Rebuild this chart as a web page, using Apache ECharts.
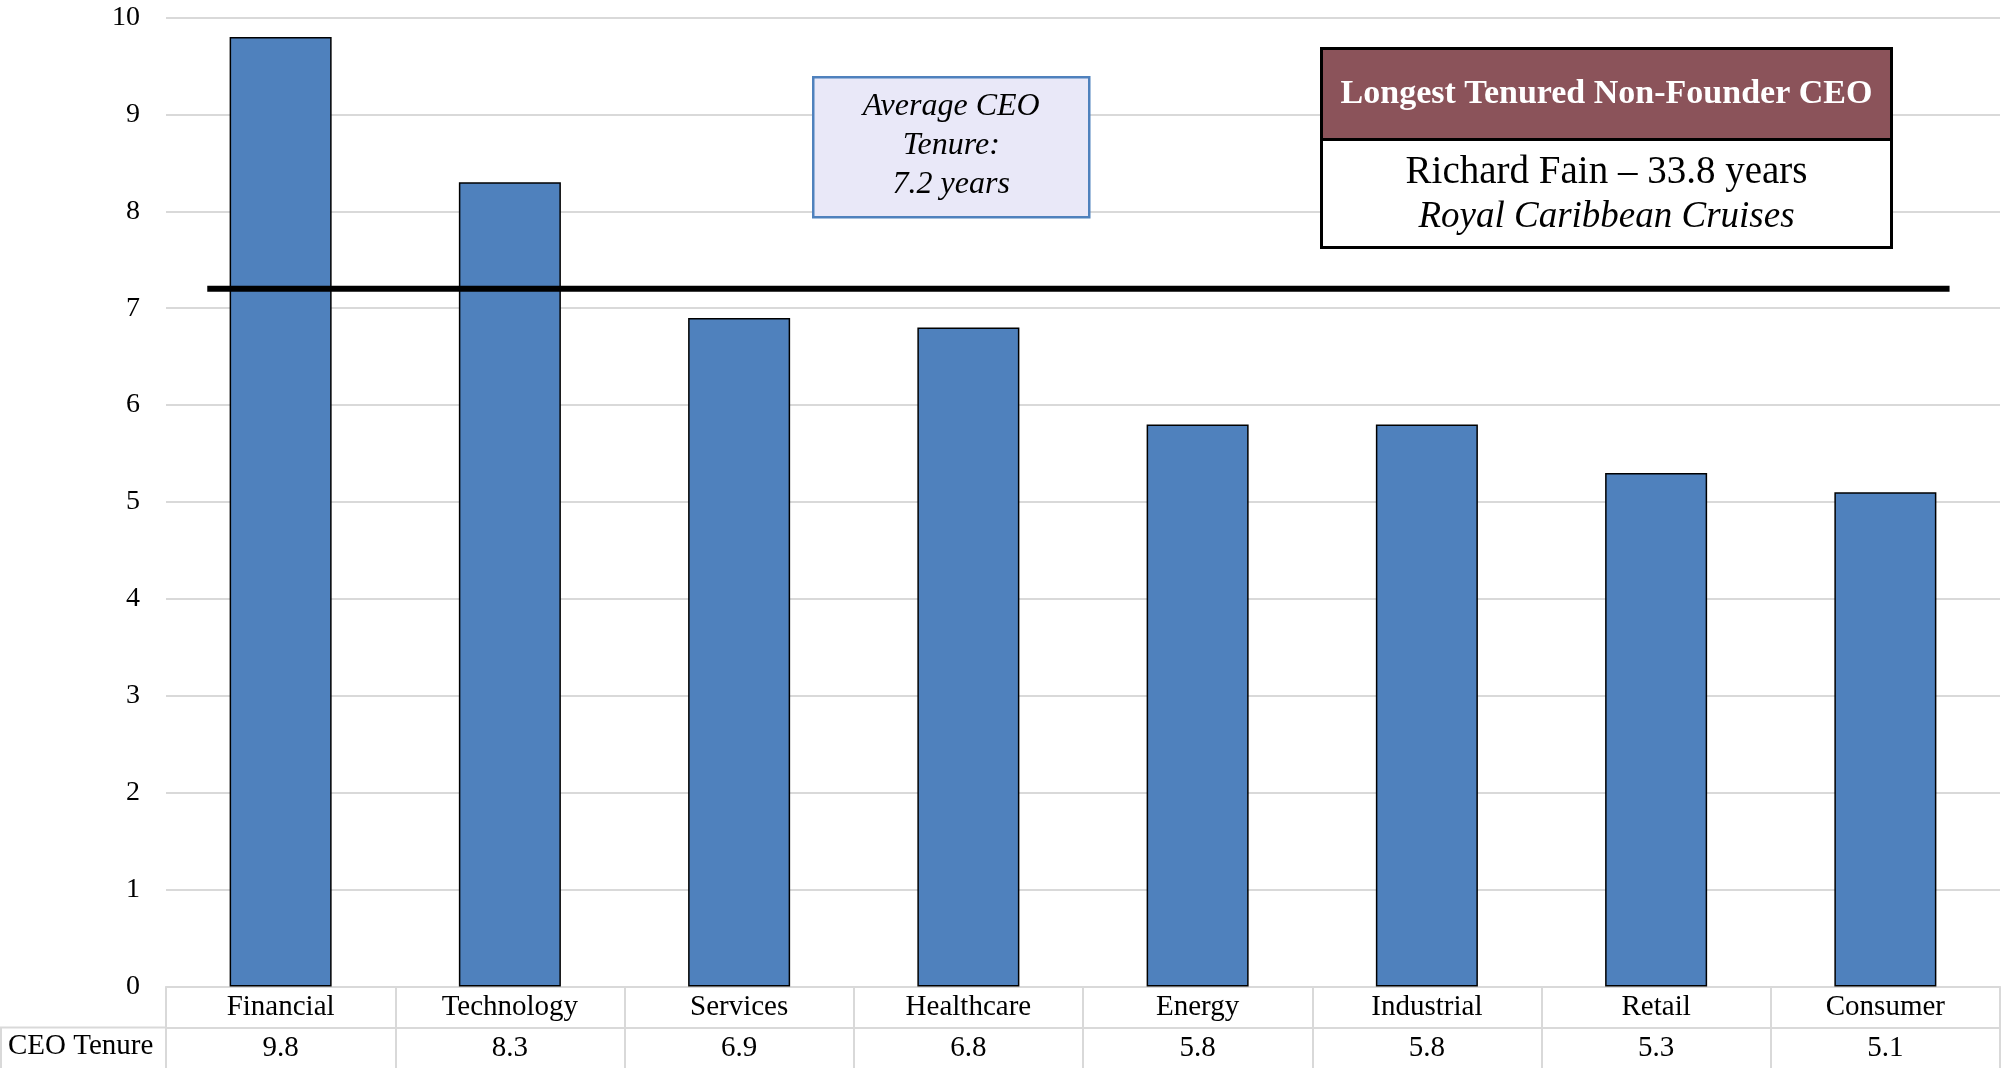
<!DOCTYPE html>
<html>
<head>
<meta charset="utf-8">
<script src="https://cdn.jsdelivr.net/npm/echarts@6/dist/echarts.min.js"></script>
<style>
  html, body { margin: 0; padding: 0; background: #fff; }
  #chart { width: 2007px; height: 1068px; }
</style>
</head>
<body>
<div id="chart"></div>
<script>
// data
const sectors = ['Financial', 'Technology', 'Services', 'Healthcare', 'Energy', 'Industrial', 'Retail', 'Consumer']
const tenure = [9.8, 8.3, 6.9, 6.8, 5.8, 5.8, 5.3, 5.1]
const avgTenure = 7.2
const avgSpan = [0.18, 7.78] // where the average line starts / ends, in category units
const yTicks = [0, 1, 2, 3, 4, 5, 6, 7, 8, 9, 10]

const font = 'Liberation Serif, serif'
const gridGray = '#d9d9d9'

const chart = echarts.init(document.getElementById('chart'))

const tableAxis = {
  type: 'category',
  position: 'bottom',
  axisLine: { show: true, lineStyle: { color: gridGray, width: 2 } },
  axisTick: { show: true, interval: 0, length: 41, lineStyle: { color: gridGray, width: 2 } },
  axisLabel: { show: true, interval: 0, color: '#000', fontSize: 29, fontFamily: font, margin: 6 }
}

const option = {
  animation: false,
  textStyle: { fontFamily: font },
  grid: { left: 166, right: 7, top: 17.5, bottom: 81.5 },
  xAxis: [
    Object.assign({}, tableAxis, { data: sectors }),
    Object.assign({}, tableAxis, { data: tenure.map(v => v.toFixed(1)), offset: 41 }),
    {
      // hidden helper axis for the average line
      type: 'value',
      min: 0,
      max: sectors.length,
      show: false
    }
  ],
  yAxis: {
    type: 'value',
    min: yTicks[0],
    max: yTicks[yTicks.length - 1],
    interval: 1,
    axisLine: { show: false },
    axisTick: { show: false },
    splitLine: { lineStyle: { color: gridGray, width: 2 } },
    axisLabel: { color: '#000', fontSize: 28, fontFamily: font, margin: 26 }
  },
  series: [
    {
      type: 'bar',
      data: tenure,
      barWidth: '44.5%',
      itemStyle: { color: '#4f81bd', borderColor: '#000', borderWidth: 1.5 }
    },
    {
      type: 'line',
      xAxisIndex: 2,
      data: avgSpan.map(x => [x, avgTenure]),
      symbol: 'none',
      z: 5,
      lineStyle: { color: '#000', width: 6, cap: 'butt' }
    }
  ],
  graphic: [
    // row header of the data table
    {
      type: 'line',
      z: 100,
      shape: { x1: 0, y1: 1027.5, x2: 166, y2: 1027.5 },
      style: { stroke: gridGray, lineWidth: 2 }
    },
    {
      type: 'line',
      z: 100,
      shape: { x1: 1, y1: 1027.5, x2: 1, y2: 1068 },
      style: { stroke: gridGray, lineWidth: 2 }
    },
    {
      type: 'text',
      z: 100,
      left: 8,
      top: 1032,
      style: { text: 'CEO Tenure', font: '29px ' + font, fill: '#000' }
    },
    // average note
    {
      type: 'group',
      left: 812,
      top: 76,
      z: 100,
      children: [
        {
          type: 'rect',
          z: 100,
          shape: { x: 0, y: 0, width: 276, height: 140 },
          style: { fill: '#e9e8f8', stroke: '#4f81bd', lineWidth: 2.5 }
        },
        {
          type: 'text',
          z: 101,
          x: 138,
          y: 68,
          style: {
            text: 'Average CEO\nTenure:\n' + avgTenure + ' years',
            font: 'italic 32px ' + font,
            lineHeight: 39,
            align: 'center',
            verticalAlign: 'middle',
            fill: '#000'
          }
        }
      ]
    },
    // longest tenured box
    {
      type: 'group',
      left: 1320,
      top: 47,
      z: 100,
      children: [
        {
          type: 'rect',
          z: 100,
          shape: { x: 0, y: 0, width: 570, height: 199 },
          style: { fill: '#fff', stroke: '#000', lineWidth: 3 }
        },
        {
          type: 'rect',
          z: 100,
          shape: { x: 0, y: 0, width: 570, height: 91 },
          style: { fill: '#8b535a', stroke: '#000', lineWidth: 3 }
        },
        {
          type: 'text',
          z: 101,
          x: 285,
          y: 46,
          style: {
            text: 'Longest Tenured Non-Founder CEO',
            font: 'bold 34px ' + font,
            align: 'center',
            verticalAlign: 'middle',
            fill: '#fff'
          }
        },
        {
          type: 'text',
          z: 101,
          x: 285,
          y: 124,
          style: {
            text: 'Richard Fain – 33.8 years',
            font: '39px ' + font,
            align: 'center',
            verticalAlign: 'middle',
            fill: '#000'
          }
        },
        {
          type: 'text',
          z: 101,
          x: 285,
          y: 169,
          style: {
            text: 'Royal Caribbean Cruises',
            font: 'italic 37px ' + font,
            align: 'center',
            verticalAlign: 'middle',
            fill: '#000'
          }
        }
      ]
    }
  ]
}

chart.setOption(option)
</script>
</body>
</html>
